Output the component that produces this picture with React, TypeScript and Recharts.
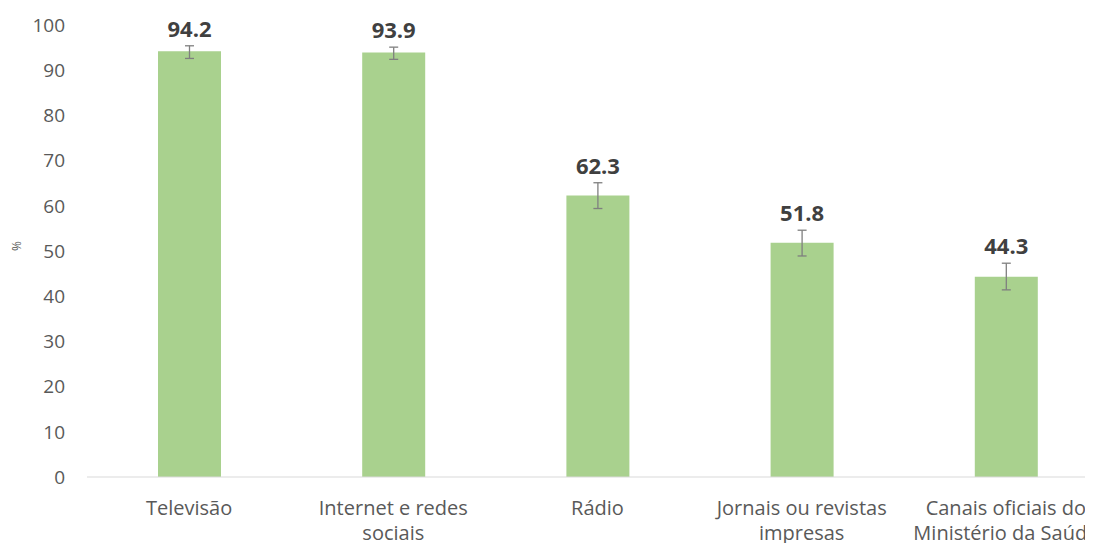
import { BarChart, Bar, XAxis, YAxis, ErrorBar, LabelList } from "recharts";

// line breaks follow the wrapping in the original chart
const categories = [
    "Televisão",
    "Internet e redes\nsociais",
    "Rádio",
    "Jornais ou revistas\nimpresas",
    "Canais oficiais do\nMinistério da Saúde",
];
const values = [94.2, 93.9, 62.3, 51.8, 44.3];
// [lower, upper] deviations
const errors = [
    [1.6, 1.2],
    [1.5, 1.2],
    [2.9, 2.8],
    [2.9, 2.8],
    [2.9, 3.0],
];
const yTicks = [0, 10, 20, 30, 40, 50, 60, 70, 80, 90, 100];

const data = categories.map((name, i) => ({ name, value: values[i], err: errors[i] }));

const FONT = "'Open Sans', sans-serif";
const TEXT_GRAY = "#595959";

const CategoryTick = (props: any) => {
    const { x, y, payload } = props;
    const lines = String(payload.value).split("\n");
    return (
        <text
            x={x}
            y={y + 36}
            textAnchor="middle"
            fill={TEXT_GRAY}
            style={{ fontFamily: FONT, fontSize: 20 }}
        >
            {lines.map((line, i) => (
                <tspan key={i} x={x} dy={i === 0 ? 0 : 25}>
                    {line}
                </tspan>
            ))}
        </text>
    );
};

const ValueLabel = (props: any) => {
    const { x, y, width, height, index, value } = props;
    const up = errors[index][1];
    const errTop = y - (height / value) * up;
    return (
        <text
            x={x + width / 2}
            y={errTop - 9}
            textAnchor="middle"
            fill="#404040"
            style={{ fontFamily: FONT, fontSize: 22, fontWeight: 700 }}
        >
            {Number(value).toFixed(1)}
        </text>
    );
};

export default function App() {
    return (
        <div style={{ width: 1085, height: 535, overflow: "hidden", fontFamily: FONT }}>
            <BarChart
                width={1112}
                height={535}
                data={data}
                margin={{ top: 17, right: 12, bottom: 0, left: 0 }}
            >
                <XAxis
                    dataKey="name"
                    height={66}
                    interval={0}
                    tickLine={false}
                    tickSize={0}
                    axisLine={{ stroke: "#d9d9d9", strokeWidth: 1 }}
                    tick={<CategoryTick />}
                />
                <YAxis
                    width={79}
                    domain={[0, 100]}
                    ticks={yTicks}
                    interval={0}
                    axisLine={false}
                    tickLine={false}
                    tickSize={0}
                    tickMargin={22}
                    tick={{ fill: TEXT_GRAY, fontSize: 19, fontFamily: FONT }}
                    label={{
                        value: "%",
                        angle: -90,
                        position: "insideLeft",
                        offset: 9,
                        fill: TEXT_GRAY,
                        fontSize: 12,
                        fontFamily: FONT,
                    }}
                />
                <Bar dataKey="value" fill="#a9d18e" barSize={63} isAnimationActive={false}>
                    <ErrorBar
                        dataKey="err"
                        width={4.5}
                        stroke="#7f7f7f"
                        strokeWidth={1.3}
                        isAnimationActive={false}
                    />
                    <LabelList dataKey="value" content={<ValueLabel />} />
                </Bar>
            </BarChart>
        </div>
    );
}
